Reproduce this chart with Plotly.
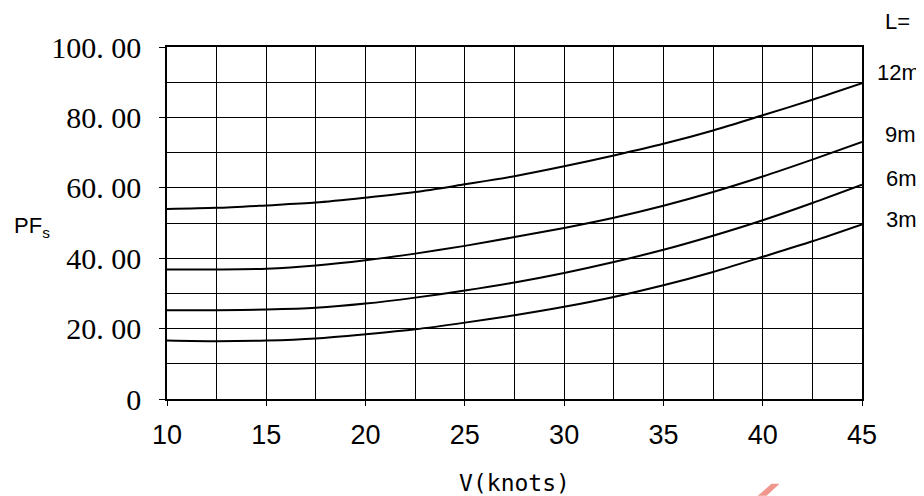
import plotly.graph_objects as go

# ---- data ----
speed_knots = [10, 12.5, 15, 17.5, 20, 22.5, 25, 27.5, 30, 32.5, 35, 37.5, 40, 42.5, 45]
pf_12m = [54.0, 54.3, 55.0, 55.8, 57.2, 58.8, 61.0, 63.3, 66.1, 69.2, 72.5, 76.3, 80.6, 85.0, 89.7]
pf_9m = [36.8, 36.8, 37.0, 37.9, 39.4, 41.3, 43.5, 46.0, 48.6, 51.5, 54.9, 58.8, 63.2, 68.0, 73.0]
pf_6m = [25.2, 25.2, 25.4, 25.9, 27.1, 28.8, 30.8, 33.1, 35.8, 38.9, 42.4, 46.4, 50.8, 55.7, 60.9]
pf_3m = [16.6, 16.4, 16.6, 17.2, 18.4, 19.8, 21.7, 23.8, 26.2, 29.0, 32.3, 36.1, 40.4, 44.8, 49.6]
series_names = ["12m", "9m", "6m", "3m"]
x_tickvals = [10, 15, 20, 25, 30, 35, 40, 45]
y_tickvals = [0, 20, 40, 60, 80, 100]
y_ticktext = ["0", "20. 00", "40. 00", "60. 00", "80. 00", "100. 00"]

SANS = "Liberation Sans, Arial, sans-serif"
SERIF = "Liberation Serif, Times New Roman, serif"

fig = go.Figure()
for name, ys in zip(series_names, [pf_12m, pf_9m, pf_6m, pf_3m]):
    fig.add_trace(go.Scatter(
        x=speed_knots, y=ys, mode="lines", name=name,
        line=dict(color="black", width=2, shape="spline", smoothing=0.8),
        showlegend=False, hoverinfo="x+y+name",
    ))

# page body has an 8px margin, so the figure is 916x488 to fit the 924x496 window
fig.update_layout(
    width=916, height=488,
    margin=dict(l=159, r=61.5, t=38.5, b=97),
    paper_bgcolor="white", plot_bgcolor="white",
)

fig.update_xaxes(
    range=[10, 45], tickvals=x_tickvals, automargin=False,
    ticks="outside", ticklen=5, tickwidth=1, tickcolor="black",
    showline=True, linecolor="black", linewidth=1.5, mirror=True,
    showgrid=True, gridcolor="black", gridwidth=1,
    minor=dict(dtick=2.5, tick0=10, showgrid=True, gridcolor="black", gridwidth=1, ticks=""),
    zeroline=False,
    tickfont=dict(family=SANS, size=27, color="black"),
    ticklabelstandoff=6,
    title=dict(text="V(knots)", font=dict(family="DejaVu Sans Mono, monospace", size=23, color="black"), standoff=26),
)
fig.update_yaxes(
    range=[0, 100], tickvals=y_tickvals, ticktext=y_ticktext, automargin=False,
    ticks="outside", ticklen=6, tickwidth=1, tickcolor="black",
    showline=True, linecolor="black", linewidth=1.5, mirror=True,
    showgrid=True, gridcolor="black", gridwidth=1,
    minor=dict(dtick=10, tick0=0, showgrid=True, gridcolor="black", gridwidth=1, ticks=""),
    zeroline=False,
    tickfont=dict(family=SERIF, size=30, color="black"),
    ticklabelstandoff=12,
)

# y label
fig.add_annotation(text="PF<sub>s</sub>", xref="paper", yref="paper", x=-0.194, y=0.49,
                   showarrow=False, xanchor="center", yanchor="middle",
                   font=dict(family=SANS, size=22, color="black"))

# right-side labels
right_labels = [("L=", 1.0295, 1.0723), ("12m", 1.0190, 0.9277), ("9m", 1.0300, 0.7518),
                ("6m", 1.0315, 0.6270), ("3m", 1.0315, 0.5106)]
for txt, xp, yp in right_labels:
    fig.add_annotation(text=txt, xref="paper", yref="paper", x=xp, y=yp,
                       showarrow=False, xanchor="left", yanchor="middle",
                       font=dict(family=SANS, size=22, color="black"))

# small red watermark fragment at bottom
fig.add_shape(type="path", xref="paper", yref="paper",
              path="M 0.8498,-0.2752 L 0.8627,-0.2752 L 0.8814,-0.2411 L 0.8699,-0.2411 Z",
              fillcolor="#F0968C", line=dict(width=0), layer="above")

fig.write_html("out.html")
